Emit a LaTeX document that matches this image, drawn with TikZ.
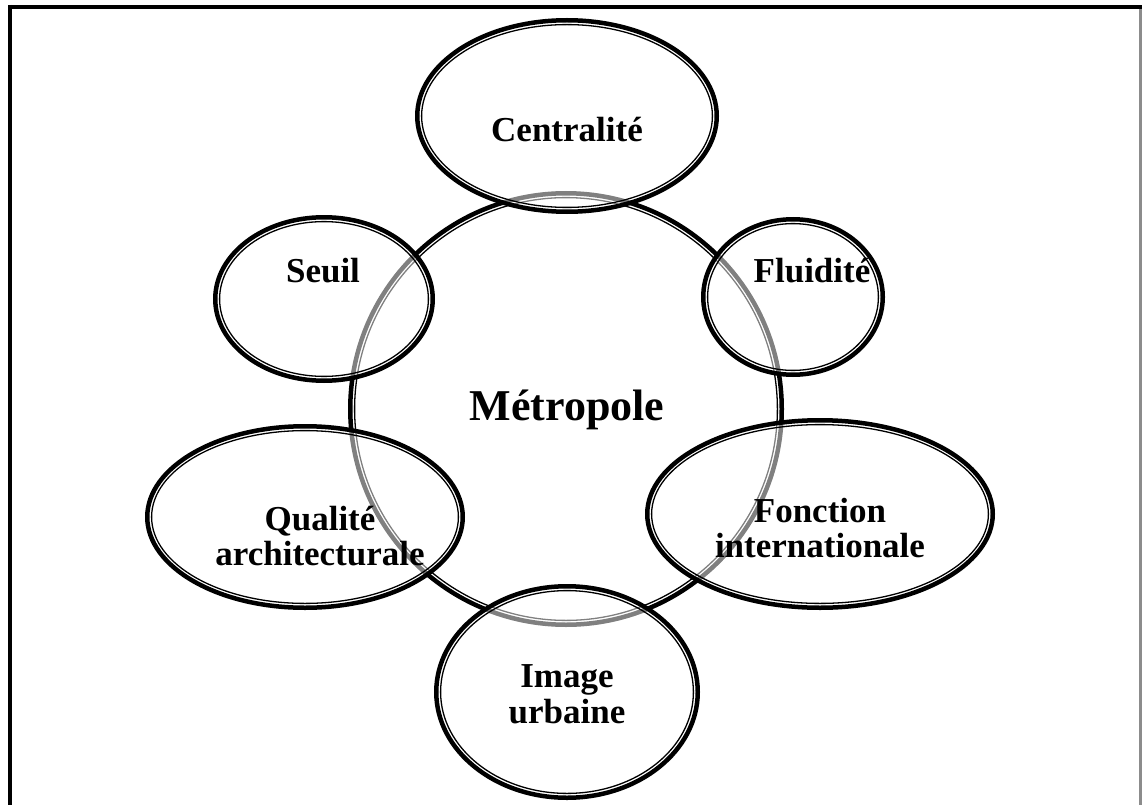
\documentclass[tikz,border=0pt]{standalone}
\usepackage{fontspec}
\setmainfont{Liberation Serif}
\usetikzlibrary{shapes.geometric}

% ring: thick outer stroke, white gap, thin inner stroke
\newcommand\ringshape[5]{% name, cx, cy, rx, ry
  \node[ring, minimum width={2*#4pt-4.5pt}, minimum height={2*#5pt-4.5pt}] (#1) at (#2,#3) {};
  \draw[innerline] (#1.center) ellipse [x radius={#4pt-6.6pt}, y radius={#5pt-6.6pt}];
}

\begin{document}
\begin{tikzpicture}[x=1pt, y=-1pt,
  ring/.style={ellipse, draw=black, line width=4.5pt, fill=white, fill opacity=0.5, inner sep=0pt},
  innerline/.style={draw=black, line width=1.3pt},
  lbl/.style={font=\bfseries\fontsize{35}{35.5}\selectfont, align=center, text=black},
  bigtxt/.style={font=\bfseries\fontsize{44}{46}\selectfont, text=black}]
  \useasboundingbox (0,0) rectangle (1142,805);

  % frame
  \draw[line width=4pt, black] (8,7) -- (1142,7);
  \draw[line width=4pt, black] (10,5) -- (10,805);
  \draw[line width=3pt, black!45] (1140.5,9) -- (1140.5,805);

  % central circle
  \node[circle, draw=black, line width=4.5pt, minimum size=431.5pt, inner sep=0pt] (metro) at (566,409) {};
  \draw[innerline] (metro.center) circle [radius=211.4pt];

  % surrounding ellipses
  \ringshape{image}{567}{692}{133}{108}
  \ringshape{centr}{567}{116}{152}{98}
  \ringshape{seuil}{324}{299}{111}{84}
  \ringshape{fluid}{793}{297}{92}{80}
  \ringshape{qual}{305}{517}{160}{93}
  \ringshape{fonct}{820}{514}{175}{96}

  % labels
  \node[bigtxt] (tmetro) at (567,410) {Métropole};
  \node[lbl] (tcentr) at (567,130) {Centralité};
  \node[lbl] (tseuil) at (323,271) {Seuil};
  \node[lbl] (tfluid) at (812,271) {Fluidité};
  \node[lbl] (tqual) at (320,536) {Qualité\\architecturale};
  \node[lbl] (tfonct) at (820,528) {Fonction\\internationale};
  \node[lbl] (timage) at (567,694) {Image\\urbaine};
\end{tikzpicture}
\end{document}
